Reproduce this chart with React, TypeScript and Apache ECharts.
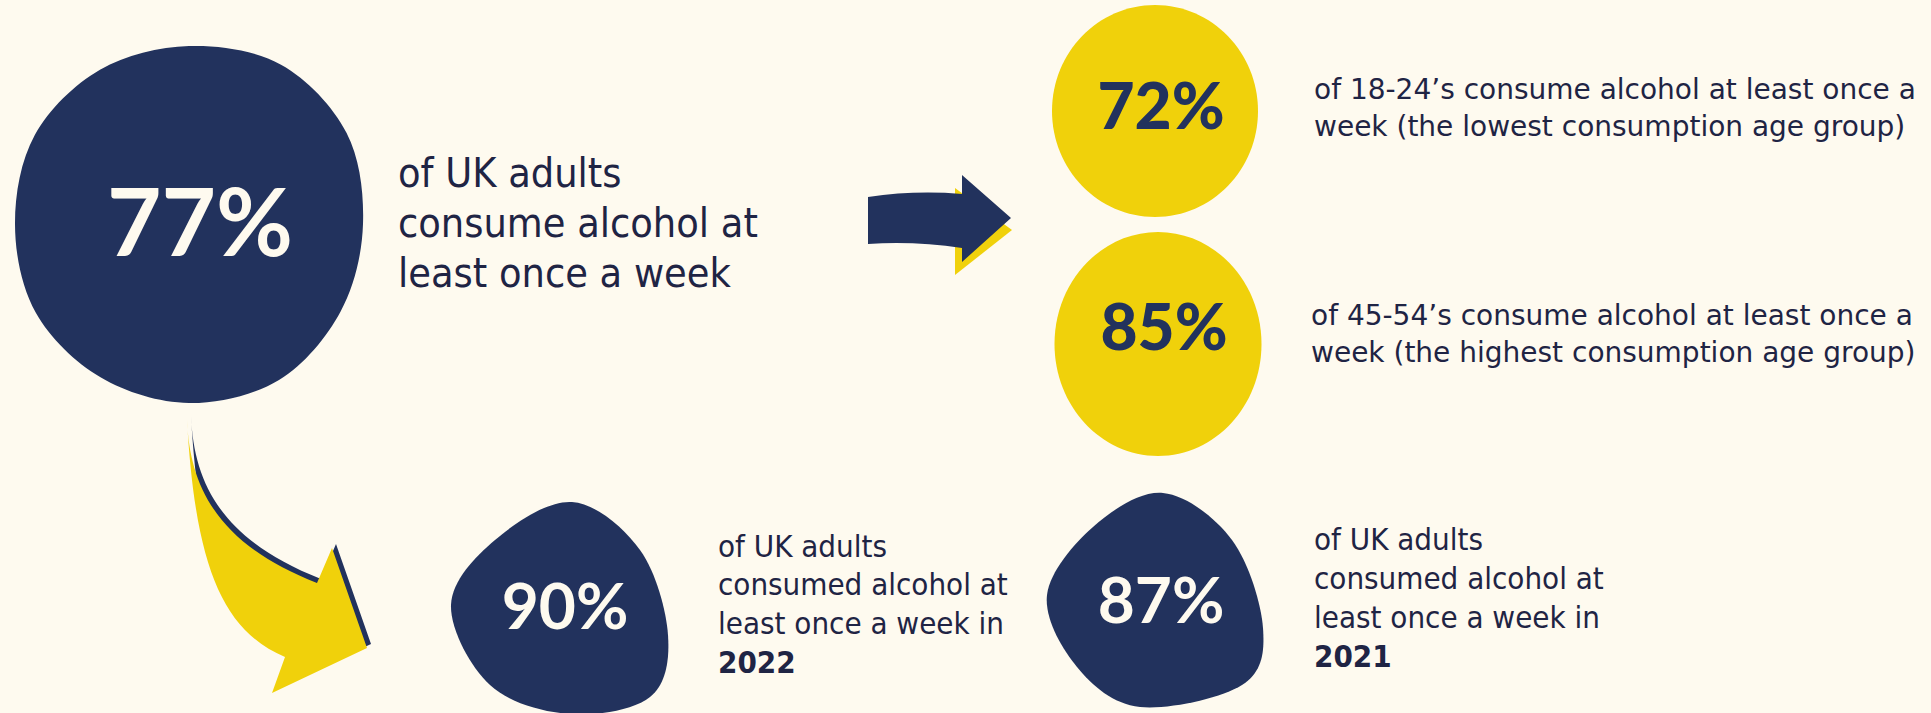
import React, { useEffect, useRef } from "react";
import * as echarts from "echarts";

// ---- data ----
const overallValue = [77];
const ageGroups = ["18-24", "45-54"];
const ageValues = [72, 85];
const ageNotes = ["lowest", "highest"];
const years = ["2022", "2021"];
const yearValues = [90, 87];

const W = 1931;
const H = 713;
const BG = "#FEFAEF";
const NAVY = "#22325D";
const YELLOW = "#F0D10B";
const INK = "#1F2444";
const CREAM = "#FEFAEF";
const BODY_FONT = '"DejaVu Sans Condensed", "DejaVu Sans", Tahoma, sans-serif';
const WIDE_FONT = '"DejaVu Sans", Verdana, sans-serif';
const NUM_FONT = 'Lato, "Noto Sans", sans-serif';

type P = [number, number];

function blobPath(pts: P[]): string {
  const n = pts.length;
  let d = `M ${pts[0][0]} ${pts[0][1]}`;
  for (let i = 0; i < n; i++) {
    const p0 = pts[(i - 1 + n) % n];
    const p1 = pts[i];
    const p2 = pts[(i + 1) % n];
    const p3 = pts[(i + 2) % n];
    const c1x = p1[0] + (p2[0] - p0[0]) / 6;
    const c1y = p1[1] + (p2[1] - p0[1]) / 6;
    const c2x = p2[0] - (p3[0] - p1[0]) / 6;
    const c2y = p2[1] - (p3[1] - p1[1]) / 6;
    d += ` C ${c1x.toFixed(1)} ${c1y.toFixed(1)} ${c2x.toFixed(1)} ${c2y.toFixed(1)} ${p2[0].toFixed(1)} ${p2[1].toFixed(1)}`;
  }
  return d + " Z";
}

// outline of the big blob: radii every 30 degrees, starting at the top, clockwise
const bigCenter: P = [189, 224];
const bigRadii = [178, 184, 182, 174, 175, 180, 179, 177, 177, 174, 178, 178];
function radialPoints(c: P, radii: number[]): P[] {
  return radii.map((r, i) => {
    const a = (-90 + i * (360 / radii.length)) * (Math.PI / 180);
    return [c[0] + r * Math.cos(a), c[1] + r * Math.sin(a)] as P;
  });
}

const blob90: P[] = [
  [572, 502], [640, 550], [668, 635], [650, 697], [570, 714], [490, 685], [451, 605], [495, 540],
];
const blob87: P[] = [
  [1163, 493], [1232, 540], [1263, 628], [1242, 685], [1140, 707], [1077, 667], [1047, 595], [1093, 527],
];

const curvedArrow =
  "M 187 420 C 190 490 220 545 317 583 L 332 548 L 367 648 L 272 693 L 285 657 C 220 630 195 560 187 420 Z";
const straightArrow =
  "M 868 197 Q 915 190 962 194 L 962 175 L 1011 218 L 962 262 L 962 248 Q 915 241 868 244 Z";

function reg(name: string, d: string) {
  echarts.graphic.registerShape(name, echarts.graphic.extendPath(d, {}));
}

function line(text: string, x: number, baseline: number, size: number, weight: string = "normal", family: string = BODY_FONT) {
  return {
    type: "text",
    x,
    y: baseline - 0.346 * size,
    style: {
      text,
      fill: INK,
      fontSize: size,
      fontFamily: family,
      fontWeight: weight,
      align: "left",
      textAlign: "left",
      verticalAlign: "middle",
      textVerticalAlign: "middle",
    },
  };
}

function num(value: number, cx: number, capMid: number, size: number, fill: string, weight: string) {
  return {
    type: "text",
    x: cx,
    y: capMid - 0.02 * size,
    style: {
      text: `${value}%`,
      fill,
      fontSize: size,
      fontFamily: NUM_FONT,
      fontWeight: weight,
      align: "center",
      textAlign: "center",
      verticalAlign: "middle",
      textVerticalAlign: "middle",
    },
  };
}

export default function App() {
  const ref = useRef<HTMLDivElement>(null);
  useEffect(() => {
    if (!ref.current) return;
    reg("blobBig", blobPath(radialPoints(bigCenter, bigRadii)));
    reg("blob90", blobPath(blob90));
    reg("blob87", blobPath(blob87));
    reg("arrowCurved", curvedArrow);
    reg("arrowStraight", straightArrow);

    const chart = echarts.init(ref.current, null, { renderer: "svg", width: W, height: H });
    const elements: any[] = [
      { type: "blobBig", x: 0, y: 0, style: { fill: NAVY } },
      { type: "ellipse", shape: { cx: 1155, cy: 111, rx: 103, ry: 106 }, style: { fill: YELLOW } },
      { type: "ellipse", shape: { cx: 1158, cy: 344, rx: 103.5, ry: 112 }, style: { fill: YELLOW } },
      { type: "blob90", x: 0, y: 0, style: { fill: NAVY } },
      { type: "blob87", x: 0, y: 0, style: { fill: NAVY } },
      { type: "arrowCurved", x: 4, y: -4, style: { fill: NAVY } },
      { type: "arrowCurved", x: 0, y: 0, style: { fill: YELLOW } },
      { type: "polygon", shape: { points: [[955, 188], [1012, 230], [955, 275]] }, style: { fill: YELLOW } },
      { type: "arrowStraight", x: 0, y: 0, style: { fill: NAVY } },
      num(overallValue[0], 200, 221, 94, CREAM, "bold"),
      num(ageValues[0], 1161, 106, 64, NAVY, "900"),
      num(ageValues[1], 1164, 327, 64, NAVY, "900"),
      num(yearValues[0], 565, 606, 64, CREAM, "bold"),
      num(yearValues[1], 1161, 600, 64, CREAM, "bold"),
      line("of UK adults", 398, 187, 41),
      line("consume alcohol at", 398, 237, 41),
      line("least once a week", 398, 287, 41),
      line(`of ${ageGroups[0]}\u2019s consume alcohol at least once a`, 1314, 99, 28, "normal", WIDE_FONT),
      line(`week (the ${ageNotes[0]} consumption age group)`, 1314, 136, 28, "normal", WIDE_FONT),
      line(`of ${ageGroups[1]}\u2019s consume alcohol at least once a`, 1311, 325, 28, "normal", WIDE_FONT),
      line(`week (the ${ageNotes[1]} consumption age group)`, 1311, 362, 28, "normal", WIDE_FONT),
      line("of UK adults", 718, 557, 31),
      line("consumed alcohol at", 718, 595, 31),
      line("least once a week in", 718, 634, 31),
      line(years[0], 718, 673, 31, "bold"),
      line("of UK adults", 1314, 550, 31),
      line("consumed alcohol at", 1314, 589, 31),
      line("least once a week in", 1314, 628, 31),
      line(years[1], 1314, 667, 31, "bold"),
    ];
    chart.setOption({
      animation: false,
      backgroundColor: BG,
      graphic: { elements },
    });
    return () => chart.dispose();
  }, []);
  return <div ref={ref} style={{ position: "fixed", left: 0, top: 0, width: W, height: H }} />;
}
